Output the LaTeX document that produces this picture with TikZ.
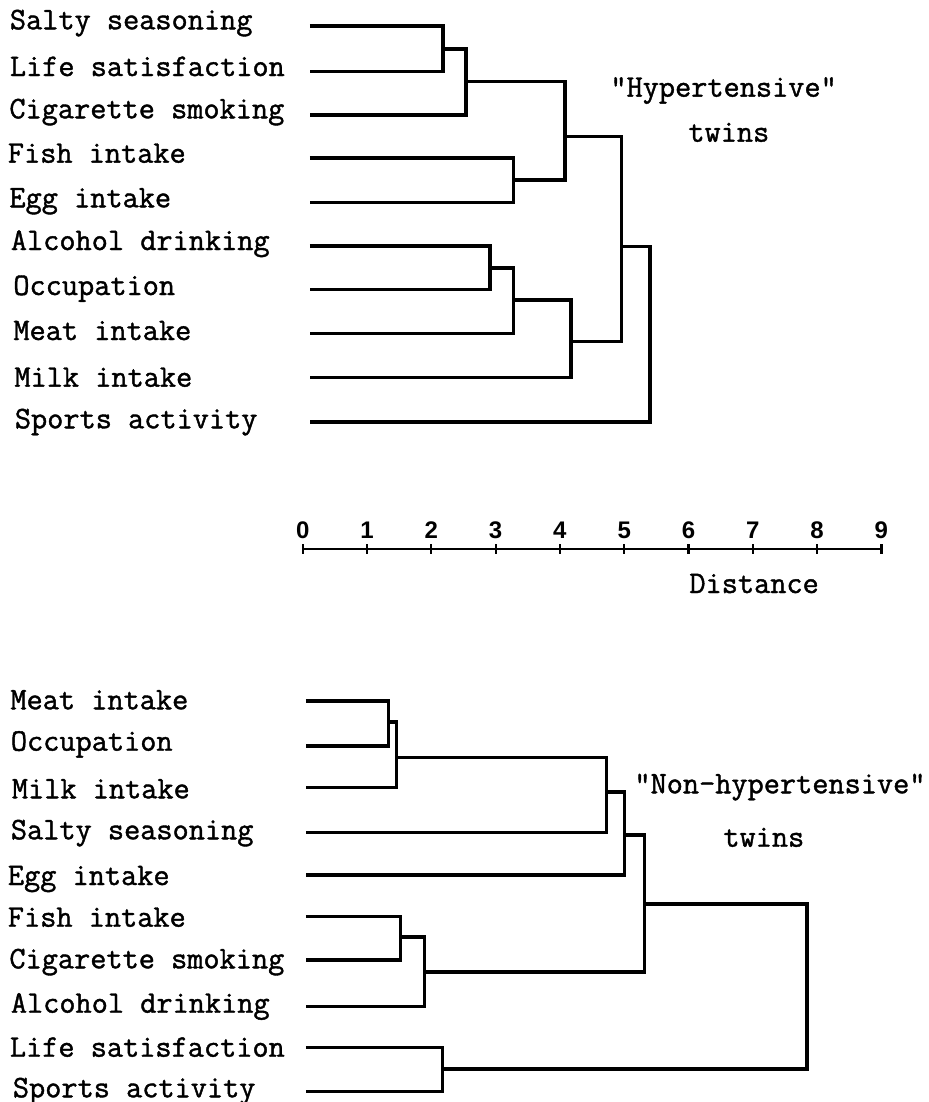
\documentclass[tikz,border=0pt]{standalone}
\usepackage{fontspec}
\setmonofont{Latin Modern Mono}[FakeBold=1.3]
\newfontfamily\axisfont{Liberation Sans}
\usetikzlibrary{positioning}
\tikzset{
    varname/.style={
    anchor=base west,inner sep=0pt,font=\ttfamily\fontsize{15.7}{18}\selectfont
    },
    branch/.style={
    draw=black,line width=1.7pt
    },
    axisline/.style={
    draw=black,line width=1.1pt
    },
    ticklabel/.style={
    inner sep=0pt,font=\axisfont\bfseries\fontsize{12}{14}\selectfont
    },
}

\begin{document}
\begin{tikzpicture}[x=0.5pt,y=-0.5pt]
   \useasboundingbox (0,0) rectangle (929,1102);
   % variable names, hypertensive twins
   \foreach \n/\x/\y/\t in {1/9.5/29.3/Salty seasoning, 2/9.5/76/Life satisfaction,
       3/9/118.3/Cigarette smoking, 4/7.5/162.7/Fish intake, 5/9/207.3/Egg intake,
       6/10.5/250/Alcohol drinking, 7/13/295/Occupation, 8/13/340/Meat intake,
       9/14/386.7/Milk intake, 10/14.5/428.3/Sports activity}
     \node[varname] (hl\n) at (\x,\y) {\t};
   % variable names, non-hypertensive twins
   \foreach \n/\x/\y/\t in {1/10/709.3/Meat intake, 2/10.5/750.7/Occupation,
       3/11.5/798.3/Milk intake, 4/10.5/839.3/Salty seasoning, 5/7.5/885/Egg intake,
       6/7.5/926.7/Fish intake, 7/9/968.3/Cigarette smoking, 8/10.5/1012.7/Alcohol drinking,
       9/9.5/1056.7/Life satisfaction, 10/12.5/1097.3/Sports activity}
     \node[varname] (nl\n) at (\x,\y) {\t};

   \node[varname] (hyp) at (610,96.7) {\textquotedbl Hypertensive\textquotedbl};
   \node[varname] (hyptw) at (688,141.7) {twins};
   \node[varname] (non) at (634,793.3) {\textquotedbl Non-hypertensive\textquotedbl};
   \node[varname] (nontw) at (723,846.7) {twins};
   \node[varname] (dist) at (689,593) {Distance};

   % x in distance units from here on
   \begin{scope}[xshift=151.35pt,x=32.15pt]
     \foreach \n/\y in {1/26,2/71.7,3/115,4/158,5/202.7,6/246,7/289.3,8/333.3,9/377.7,10/422}
       \coordinate (h\n) at (0.11,\y);
     \coordinate (hSL) at (2.18,49);
     \coordinate (hSLC) at (2.54,81.7);
     \coordinate (hFE) at (3.28,180);
     \coordinate (hA) at (4.08,136.7);
     \coordinate (hAO) at (2.91,268);
     \coordinate (hAOM) at (3.28,300);
     \coordinate (hB) at (4.17,341.7);
     \coordinate (hAB) at (4.96,246.7);
     \coordinate (hroot) at (5.40,334);

     \draw[branch] (h1) -| (hSL) |- (h2);
     \draw[branch] (hSL) -| (hSLC) |- (h3);
     \draw[branch] (h4) -| (hFE) |- (h5);
     \draw[branch] (hSLC) -| (hA) |- (hFE);
     \draw[branch] (h6) -| (hAO) |- (h7);
     \draw[branch] (hAO) -| (hAOM) |- (h8);
     \draw[branch] (hAOM) -| (hB) |- (h9);
     \draw[branch] (hA) -| (hAB) |- (hB);
     \draw[branch] (hAB) -| (hroot) |- (h10);

     % distance scale
     \foreach \i in {0,...,9} {
       \coordinate (a\i) at (\i,549);
       \node[ticklabel] (s\i) at (\i,530) {\i};
       \draw[axisline] (a\i) ++(0,-5) -- ++(0,10);
     }
     \draw[axisline] (a0) -- (a9);

     \foreach \n/\y in {1/701,2/746,3/787.7,4/832.7,5/875,6/916.7,7/960,8/1006.7,9/1047.7,10/1091.7}
       \coordinate (n\n) at (0.05,\y);
     \coordinate (nMO) at (1.33,722);
     \coordinate (nMOM) at (1.46,757.7);
     \coordinate (nS) at (4.72,792);
     \coordinate (nE) at (5.00,835);
     \coordinate (nFC) at (1.52,937);
     \coordinate (nFCA) at (1.89,972);
     \coordinate (nX) at (5.32,904);
     \coordinate (nLS) at (2.17,1069);
     \coordinate (nroot) at (7.84,990);

     \draw[branch] (n1) -| (nMO) |- (n2);
     \draw[branch] (nMO) -| (nMOM) |- (n3);
     \draw[branch] (nMOM) -| (nS) |- (n4);
     \draw[branch] (nS) -| (nE) |- (n5);
     \draw[branch] (n6) -| (nFC) |- (n7);
     \draw[branch] (nFC) -| (nFCA) |- (n8);
     \draw[branch] (nE) -| (nX) |- (nFCA);
     \draw[branch] (n9) -| (nLS) |- (n10);
     \draw[branch] (nX) -| (nroot) |- (nLS);
   \end{scope}
\end{tikzpicture}
\end{document}
